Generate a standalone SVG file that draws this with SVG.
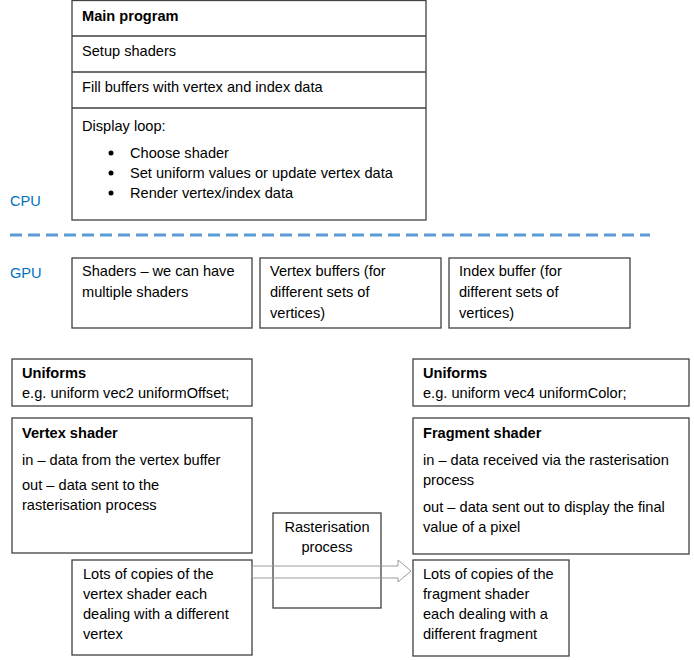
<svg xmlns="http://www.w3.org/2000/svg" width="694" height="660" viewBox="0 0 694 660">
<style>
.box{fill:#fff;stroke:#404040;stroke-width:1.3}
.t{font-family:"Liberation Sans",Arial,sans-serif;font-size:14.6px;fill:#000}
.b{font-weight:bold}
.blue{fill:#0070C0}
</style>
<rect width="694" height="660" fill="#fff"/>
<text class="t blue" x="10" y="206">CPU</text>
<text class="t blue" x="10" y="278">GPU</text>
<line x1="10" y1="235" x2="650" y2="235" stroke="#5B9BD5" stroke-width="3" stroke-dasharray="12,6"/>
<g id="main">
<rect class="box" x="72" y="0.5" width="354" height="219.5"/>
<line x1="72" y1="36" x2="426" y2="36" stroke="#404040" stroke-width="1.3"/>
<line x1="72" y1="72" x2="426" y2="72" stroke="#404040" stroke-width="1.3"/>
<line x1="72" y1="108" x2="426" y2="108" stroke="#404040" stroke-width="1.3"/>
<text class="t b" x="82" y="21">Main program</text>
<text class="t" x="82" y="56">Setup shaders</text>
<text class="t" x="82" y="92">Fill buffers with vertex and index data</text>
<text class="t" x="82" y="131">Display loop:</text>
<circle cx="111" cy="153" r="2.5"/><circle cx="111" cy="173" r="2.5"/><circle cx="111" cy="193" r="2.5"/>
<text class="t" x="130" y="158">Choose shader</text>
<text class="t" x="130" y="178">Set uniform values or update vertex data</text>
<text class="t" x="130" y="198">Render vertex/index data</text>
</g>
<g id="shaders">
<rect class="box" x="72" y="258" width="180" height="70"/>
<text class="t" x="82" y="276">Shaders – we can have</text>
<text class="t" x="82" y="297">multiple shaders</text>
</g>
<g id="vbuf">
<rect class="box" x="260" y="258" width="181" height="70"/>
<text class="t" x="270" y="276">Vertex buffers (for</text>
<text class="t" x="270" y="297">different sets of</text>
<text class="t" x="270" y="318">vertices)</text>
</g>
<g id="ibuf">
<rect class="box" x="449" y="258" width="181" height="70"/>
<text class="t" x="459" y="276">Index buffer (for</text>
<text class="t" x="459" y="297">different sets of</text>
<text class="t" x="459" y="318">vertices)</text>
</g>
<g id="unif1">
<rect class="box" x="12" y="359" width="240" height="47"/>
<text class="t b" x="22" y="378">Uniforms</text>
<text class="t" x="22" y="398">e.g. uniform vec2 uniformOffset;</text>
</g>
<g id="vshader">
<rect class="box" x="12" y="418" width="240" height="135"/>
<text class="t b" x="22" y="438">Vertex shader</text>
<text class="t" x="22" y="465">in – data from the vertex buffer</text>
<text class="t" x="22" y="490">out – data sent to the</text>
<text class="t" x="22" y="510">rasterisation process</text>
</g>
<g id="unif2">
<rect class="box" x="413" y="359" width="276" height="47"/>
<text class="t b" x="423" y="378">Uniforms</text>
<text class="t" x="423" y="398">e.g. uniform vec4 uniformColor;</text>
</g>
<g id="fshader">
<rect class="box" x="413" y="418" width="276" height="136"/>
<text class="t b" x="423" y="438">Fragment shader</text>
<text class="t" x="423" y="465">in – data received via the rasterisation</text>
<text class="t" x="423" y="485">process</text>
<text class="t" x="423" y="512">out – data sent out to display the final</text>
<text class="t" x="423" y="532">value of a pixel</text>
</g>
<g id="raster">
<rect class="box" x="273" y="513" width="108" height="95"/>
<text class="t" x="327" y="532" text-anchor="middle">Rasterisation</text>
<text class="t" x="327" y="552" text-anchor="middle">process</text>
</g>
<g id="vcopies">
<rect class="box" x="72" y="560" width="180" height="95"/>
<text class="t" x="83" y="579">Lots of copies of the</text>
<text class="t" x="83" y="599">vertex shader each</text>
<text class="t" x="83" y="619">dealing with a different</text>
<text class="t" x="83" y="639">vertex</text>
</g>
<g id="fcopies">
<rect class="box" x="413" y="560" width="156" height="96"/>
<text class="t" x="423" y="579">Lots of copies of the</text>
<text class="t" x="423" y="599">fragment shader</text>
<text class="t" x="423" y="619">each dealing with a</text>
<text class="t" x="423" y="639">different fragment</text>
</g>
<g id="connectors">
<path d="M252,566 H398 V560 L411,571 L398,582 V578 H252 Z" fill="none" stroke="#9a9a9a" stroke-width="1"/>
</g>
</svg>
